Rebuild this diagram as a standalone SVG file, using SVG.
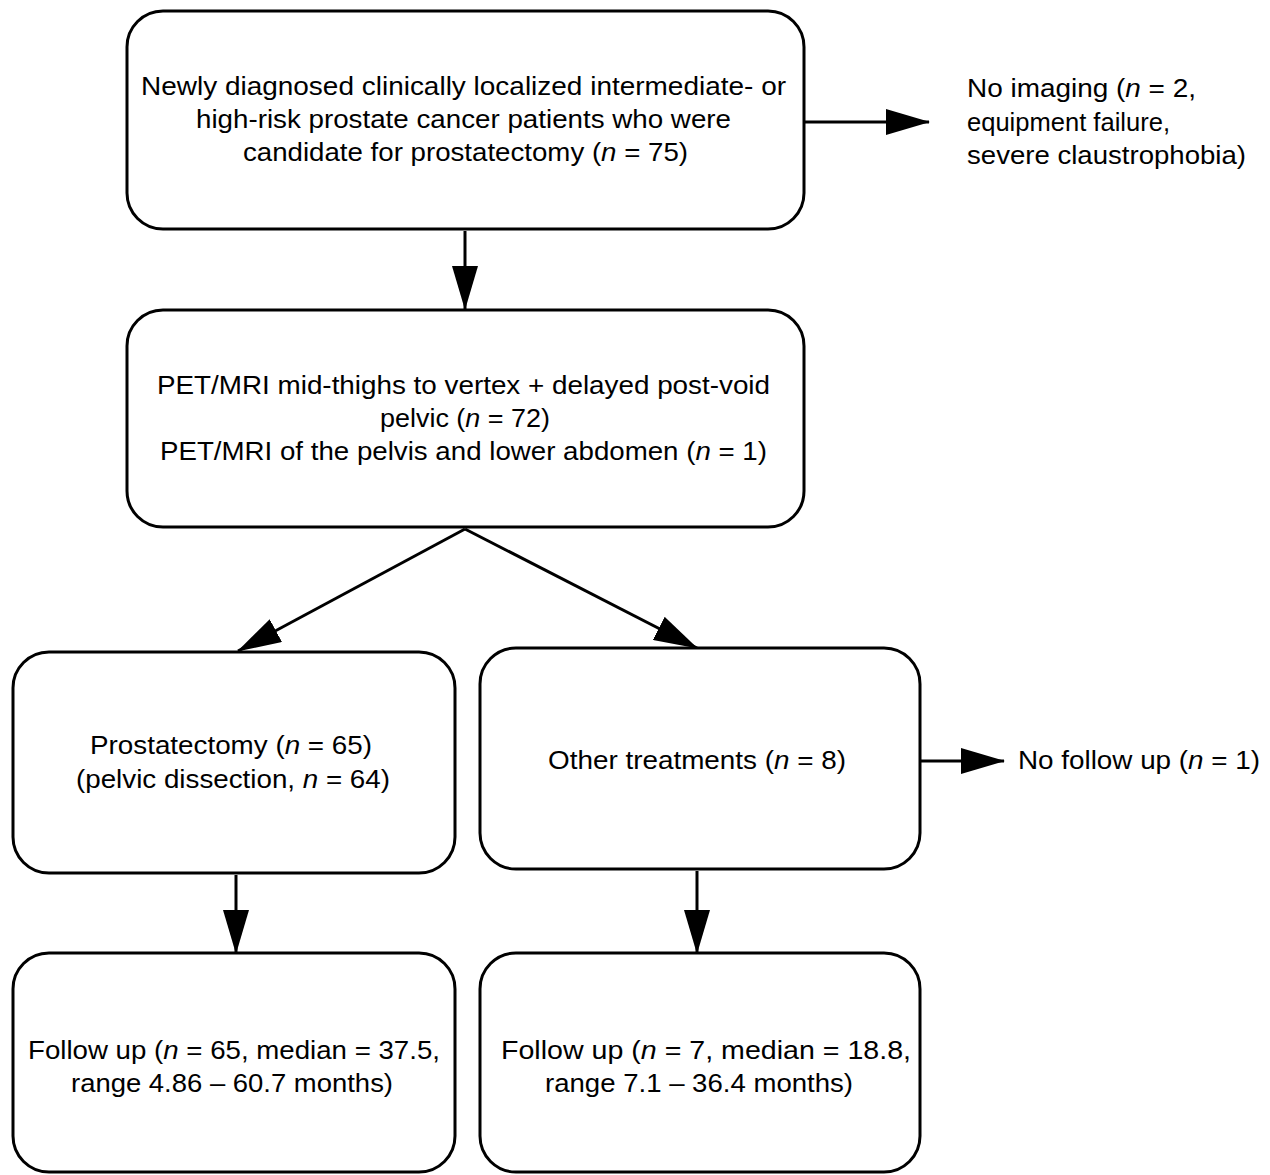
<svg xmlns="http://www.w3.org/2000/svg" width="1270" height="1175" viewBox="0 0 1270 1175">
<style>
.box{fill:#fff;stroke:#000;stroke-width:3}
.t{font-family:"Liberation Sans",Arial,sans-serif;font-size:26px;fill:#000}
.c{text-anchor:middle}
.i{font-style:italic}
.ln{stroke:#000;stroke-width:3;fill:none;marker-end:url(#ah)}
</style>
<defs>
<marker id="ah" markerUnits="userSpaceOnUse" markerWidth="44" markerHeight="26" refX="43" refY="13" orient="auto">
<path d="M0,0 L44,13 L0,26 Z" fill="#000"/>
</marker>
</defs>
<rect width="1270" height="1175" fill="#fff"/>
<g id="connectors">
<line class="ln" x1="465" y1="231" x2="465" y2="309"/>
<line class="ln" x1="805" y1="122" x2="929" y2="122"/>
<line class="ln" x1="465" y1="529" x2="238" y2="651"/>
<line class="ln" x1="465" y1="529" x2="697" y2="648"/>
<line class="ln" x1="236" y1="875" x2="236" y2="953"/>
<line class="ln" x1="697" y1="871" x2="697" y2="953"/>
<line class="ln" x1="921" y1="761" x2="1004" y2="761"/>
</g>
<g id="n1">
<rect class="box" x="127" y="11" width="677" height="218" rx="36"/>
<text class="t" x="141" y="95" textLength="645" lengthAdjust="spacingAndGlyphs">Newly diagnosed clinically localized intermediate- or</text>
<text class="t" x="196" y="128" textLength="535" lengthAdjust="spacingAndGlyphs">high-risk prostate cancer patients who were</text>
<text class="t" x="243" y="161" textLength="445" lengthAdjust="spacingAndGlyphs">candidate for prostatectomy (<tspan class="i">n</tspan> = 75)</text>
</g>
<g id="n2">
<text class="t" x="967" y="97" textLength="229" lengthAdjust="spacingAndGlyphs">No imaging (<tspan class="i">n</tspan> = 2,</text>
<text class="t" x="967" y="131" textLength="203" lengthAdjust="spacingAndGlyphs">equipment failure,</text>
<text class="t" x="967" y="164" textLength="279" lengthAdjust="spacingAndGlyphs">severe claustrophobia)</text>
</g>
<g id="n3">
<rect class="box" x="127" y="310" width="677" height="217" rx="36"/>
<text class="t" x="157" y="394" textLength="613" lengthAdjust="spacingAndGlyphs">PET/MRI mid-thighs to vertex + delayed post-void</text>
<text class="t" x="380" y="427" textLength="170" lengthAdjust="spacingAndGlyphs">pelvic (<tspan class="i">n</tspan> = 72)</text>
<text class="t" x="160" y="460" textLength="607" lengthAdjust="spacingAndGlyphs">PET/MRI of the pelvis and lower abdomen (<tspan class="i">n</tspan> = 1)</text>
</g>
<g id="n4">
<rect class="box" x="13" y="652" width="442" height="221" rx="36"/>
<text class="t" x="90" y="754" textLength="282" lengthAdjust="spacingAndGlyphs">Prostatectomy (<tspan class="i">n</tspan> = 65)</text>
<text class="t" x="76" y="788" textLength="314" lengthAdjust="spacingAndGlyphs">(pelvic dissection, <tspan class="i">n</tspan> = 64)</text>
</g>
<g id="n5">
<rect class="box" x="480" y="648" width="440" height="221" rx="36"/>
<text class="t" x="548" y="769" textLength="298" lengthAdjust="spacingAndGlyphs">Other treatments (<tspan class="i">n</tspan> = 8)</text>
</g>
<g id="n6">
<text class="t" x="1018" y="769" textLength="242" lengthAdjust="spacingAndGlyphs">No follow up (<tspan class="i">n</tspan> = 1)</text>
</g>
<g id="n7">
<rect class="box" x="13" y="953" width="442" height="219" rx="36"/>
<text class="t" x="28" y="1059" textLength="412" lengthAdjust="spacingAndGlyphs">Follow up (<tspan class="i">n</tspan> = 65, median = 37.5,</text>
<text class="t" x="71" y="1092" textLength="322" lengthAdjust="spacingAndGlyphs">range 4.86 – 60.7 months)</text>
</g>
<g id="n8">
<rect class="box" x="480" y="953" width="440" height="219" rx="36"/>
<text class="t" x="501" y="1059" textLength="410" lengthAdjust="spacingAndGlyphs">Follow up (<tspan class="i">n</tspan> = 7, median = 18.8,</text>
<text class="t" x="545" y="1092" textLength="308" lengthAdjust="spacingAndGlyphs">range 7.1 – 36.4 months)</text>
</g>
</svg>
